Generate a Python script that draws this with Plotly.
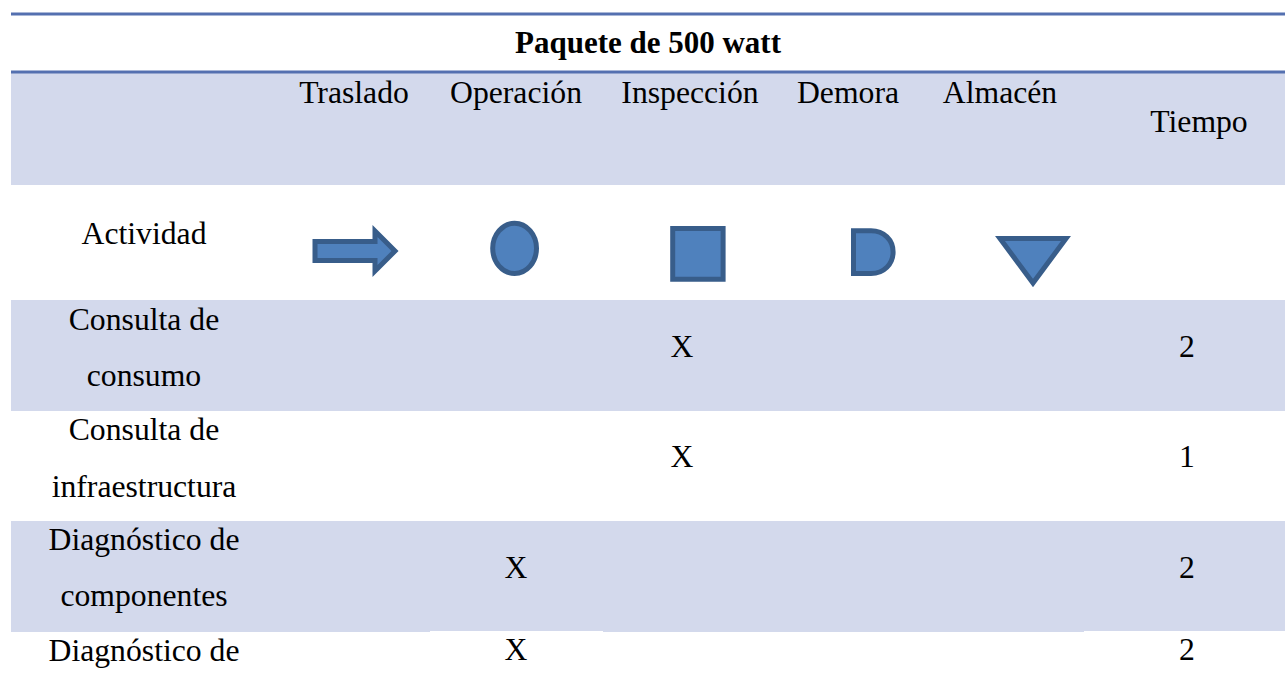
import plotly.graph_objects as go

TITLE = "Paquete de 500 watt"
HEADERS = ["Traslado", "Operación", "Inspección", "Demora", "Almacén", "Tiempo"]
HEADER_X = [354, 516, 690, 848, 1000, 1199]
HEADER_Y = [95.5, 95.5, 95.5, 95.5, 95.5, 124]
LABEL_LINES = ["Actividad", "Consulta de", "consumo", "Consulta de", "infraestructura",
               "Diagnóstico de", "componentes", "Diagnóstico de"]
LABEL_Y = [236.5, 322.5, 378.5, 432.5, 489.5, 542.5, 598.5, 653.5]
MARK_X = [682, 682, 516, 516]
MARK_Y = [349, 459, 570, 652]
MARKS = ["X", "X", "X", "X"]
TIEMPO_X = [1187, 1187, 1187, 1187]
TIEMPO = ["2", "1", "2", "2"]
BANDS = [(72, 185), (300, 411), (521, 632)]
RULES = [14, 72]
BAND = "#d3d9ec"
RULE = "#5470b0"
FILL = "#4f81bd"
EDGE = "#385d8a"
SIZE = 31.7
FONT = dict(family="Liberation Serif", size=SIZE, color="#000000")

fig = go.Figure()
shapes = []
for y0, y1 in BANDS:
    shapes.append(dict(type="rect", x0=11, x1=1285, y0=y0, y1=y1, fillcolor=BAND, line_width=0, layer="below"))
for y in RULES:
    shapes.append(dict(type="rect", x0=11, x1=1285, y0=y - 1.5, y1=y + 1.5, fillcolor=RULE, line_width=0))
for x0, x1 in [(430, 603), (1084, 1285)]:
    shapes.append(dict(type="rect", x0=x0, x1=x1, y0=631, y1=632, fillcolor="white", line_width=0, layer="below"))
style = dict(fillcolor=FILL, line=dict(color=EDGE, width=5))
shapes += [
    dict(type="path", path="M315,241.5 H375 V231 L395,251 L375,271 V260.5 H315 Z", **style),
    dict(type="circle", x0=492.7, x1=536.5, y0=223.2, y1=273.5, **style),
    dict(type="rect", x0=672.7, x1=723.1, y0=228.5, y1=279.2, **style),
    dict(type="path", path="M853.5,230.8 H871 C884,230.8 893.1,240 893.1,252 C893.1,264 884,273.5 871,273.5 H853.5 Z", **style),
    dict(type="path", path="M1000,238.5 H1066 L1033,283 Z", **style),
]
fig.add_trace(go.Scatter(x=[648], y=[45.5], text=[TITLE], mode="text",
                         textfont=dict(family="Liberation Serif", size=31, color="#000000", weight="bold"), hoverinfo="skip"))
fig.add_trace(go.Scatter(x=HEADER_X, y=HEADER_Y, text=HEADERS, mode="text", textfont=FONT, hoverinfo="skip"))
fig.add_trace(go.Scatter(x=[144] * len(LABEL_LINES), y=LABEL_Y, text=LABEL_LINES, mode="text", textfont=FONT, hoverinfo="skip"))
fig.add_trace(go.Scatter(x=MARK_X, y=MARK_Y, text=MARKS, mode="text", textfont=FONT, hoverinfo="skip"))
fig.add_trace(go.Scatter(x=TIEMPO_X, y=MARK_Y, text=TIEMPO, mode="text", textfont=FONT, hoverinfo="skip"))
fig.update_layout(width=1285, height=681, margin=dict(l=0, r=0, t=0, b=0), showlegend=False,
                  paper_bgcolor="white", plot_bgcolor="white", shapes=shapes,
                  xaxis=dict(range=[0, 1285], visible=False), yaxis=dict(range=[681, 0], visible=False))
fig.write_html("out.html", config=dict(displayModeBar=False), post_script="document.body.style.margin='0';")
